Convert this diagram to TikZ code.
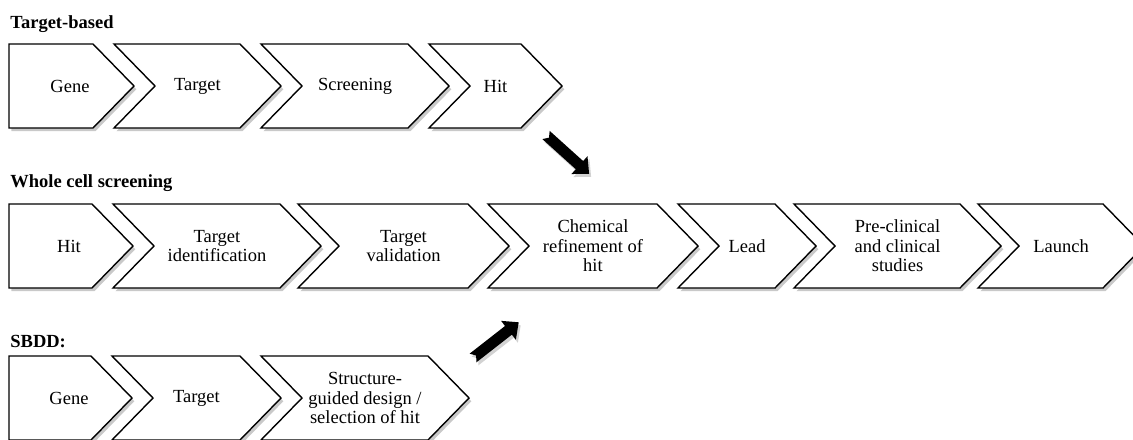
\documentclass[tikz,border=0pt]{standalone}
\usepackage{fontspec}
\setmainfont{Liberation Serif}
\usetikzlibrary{shadows}

\tikzset{
  chev/.style={draw=black, line width=0.7pt, fill=white,
    drop shadow={shadow xshift=1.2pt, shadow yshift=-1.6pt, opacity=.3, fill=black!70}},
  lbl/.style={align=center, inner sep=0pt, font=\fontsize{9.25}{9.8}\selectfont},
  ttl/.style={anchor=base west, inner sep=0pt, font=\fontsize{9.25}{11}\selectfont\bfseries},
  blk/.style={fill=black,
    drop shadow={shadow xshift=1pt, shadow yshift=-1.5pt, opacity=.25, fill=black!70}}
}
% first box of a row: right x of top edge, middle y
\newcommand{\firstbox}[2]{
  \draw[chev] (9,{#2-42}) -- (#1,{#2-42}) -- ({#1+41},#2) -- (#1,{#2+42}) -- (9,{#2+42}) -- cycle;
}
% chevron: left x, right x of top edge, middle y
\newcommand{\chevron}[3]{
  \draw[chev] (#1,{#3-42}) -- (#2,{#3-42}) -- ({#2+41},#3) -- (#2,{#3+42})
    -- (#1,{#3+42}) -- ({#1+41},#3) -- cycle;
}
% block arrow: tail x, tail y, angle
\newcommand{\bigarrow}[3]{
  \fill[blk, shift={(#1,#2)}, rotate=#3] (0,-5.5) -- (45,-5.5) -- (45,-12) -- (58,0)
    -- (45,12) -- (45,5.5) -- (0,5.5) -- (4,0) -- cycle;
}

\begin{document}
\begin{tikzpicture}[x=0.5pt, y=-0.5pt]
\useasboundingbox (0,0) rectangle (1133,439);

% target-based
\node[ttl] (ttl1) at (10,28) {Target-based};
\firstbox{93}{86}
\node[lbl] (r1a) at (70,86) {Gene};
\foreach \l/\r/\txt/\nm in {114/240/Target/r1b, 261/408/Screening/r1c, 429/521/Hit/r1d} {
  \chevron{\l}{\r}{86}
  \node[lbl] (\nm) at ({(\l+\r+41)/2},86) {\txt};
}

% whole cell screening
\node[ttl] (ttl2) at (10,187) {Whole cell screening};
\firstbox{92}{246}
\node[lbl] (r2a) at (69,246) {Hit};
\foreach \l/\r/\txt/\nm in {113/280/{Target\\identification}/r2b,
  298/468/{Target\\validation}/r2c,
  488/657/{Chemical\\refinement of\\hit}/r2d,
  678/775/Lead/r2e,
  794/960/{Pre-clinical\\and clinical\\studies}/r2f,
  978/1103/Launch/r2g} {
  \chevron{\l}{\r}{246}
  \node[lbl] (\nm) at ({(\l+\r+41)/2},246) {\txt};
}

% SBDD
\node[ttl] (ttl3) at (10,347) {SBDD:};
\firstbox{91}{398}
\node[lbl] (r3a) at (69,398) {Gene};
\foreach \l/\r/\txt/\nm in {112/240/Target/r3b,
  261/428/{Structure-\\guided design /\\selection of hit}/r3c} {
  \chevron{\l}{\r}{398}
  \node[lbl] (\nm) at ({(\l+\r+41)/2},398) {\txt};
}

% arrows into the middle row
\bigarrow{546}{135}{-42}
\bigarrow{473}{358}{38}
\end{tikzpicture}
\end{document}
